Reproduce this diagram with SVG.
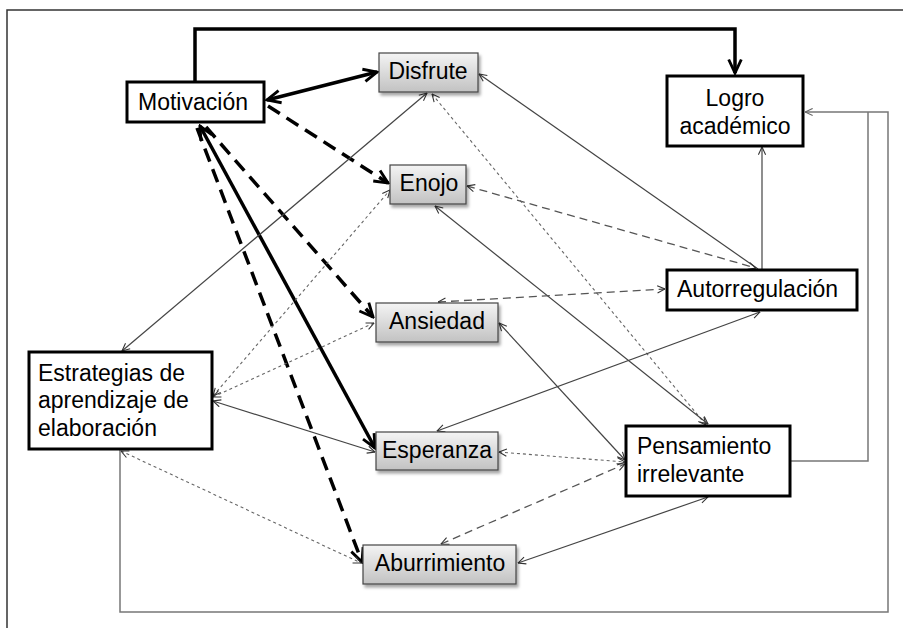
<svg xmlns="http://www.w3.org/2000/svg" width="903" height="628" viewBox="0 0 903 628">
  <defs>
    <linearGradient id="grayFill" x1="0" y1="0" x2="0" y2="1">
      <stop offset="0" stop-color="#f4f4f4"/>
      <stop offset="1" stop-color="#c2c2c2"/>
    </linearGradient>
    <filter id="shadow" x="-10%" y="-20%" width="130%" height="160%">
      <feDropShadow dx="2" dy="3" stdDeviation="1.5" flood-color="#000" flood-opacity="0.35"/>
    </filter>
    <marker id="arrThin" markerUnits="userSpaceOnUse" viewBox="0 0 10 10" refX="9.5" refY="5" markerWidth="9" markerHeight="9" orient="auto-start-reverse">
      <path d="M1,1 L9.5,5 L1,9" fill="none" stroke="#333" stroke-width="1.2"/>
    </marker>
    <marker id="arrGray" markerUnits="userSpaceOnUse" viewBox="0 0 10 10" refX="9.5" refY="5" markerWidth="9" markerHeight="9" orient="auto-start-reverse">
      <path d="M1,1 L9.5,5 L1,9" fill="none" stroke="#666" stroke-width="1.2"/>
    </marker>
    <marker id="arrThick" markerUnits="userSpaceOnUse" viewBox="0 0 20 20" refX="18" refY="10" markerWidth="18" markerHeight="18" orient="auto-start-reverse">
      <path d="M3,3 L18,10 L3,17" fill="none" stroke="#000" stroke-width="3.2" stroke-linejoin="miter"/>
    </marker>
  </defs>
  <style>
    text { font-family: "Liberation Sans", Arial, sans-serif; font-size: 23px; fill: #000; }
    .mid { text-anchor: middle; }
    .boxW { fill: #fff; stroke: #000; stroke-width: 3; }
    .boxG { fill: url(#grayFill); stroke: #444; stroke-width: 1.2; filter: url(#shadow); }
    .thick { fill: none; stroke: #000; stroke-width: 3.5; }
    .thickDash { fill: none; stroke: #000; stroke-width: 3.5; stroke-dasharray: 14 8; }
    .solid { fill: none; stroke: #444; stroke-width: 1.2; }
    .dash { fill: none; stroke: #555; stroke-width: 1.3; stroke-dasharray: 8 5; }
    .dot { fill: none; stroke: #666; stroke-width: 1.1; stroke-dasharray: 3 3; }
    .route { fill: none; stroke: #777; stroke-width: 1.5; }
  </style>

  <rect width="903" height="628" fill="#fff"/>
  <!-- frame -->
  <path d="M7,628 V10 H903" fill="none" stroke="#333" stroke-width="1.5"/>

  <g id="connectors">
    <!-- thick links from Motivación -->
    <path class="thick" d="M195,82 V29 H735 V73" marker-end="url(#arrThick)"/>
    <path class="thick" d="M267,100 L377,72" marker-start="url(#arrThick)" marker-end="url(#arrThick)"/>
    <path class="thickDash" d="M268,106 L388,183" marker-end="url(#arrThick)"/>
    <path class="thickDash" d="M206,127 L373,317" marker-end="url(#arrThick)"/>
    <path class="thick" d="M200,126 L375,448" marker-start="url(#arrThick)" marker-end="url(#arrThick)"/>
    <path class="thickDash" d="M197,128 L362,562" marker-end="url(#arrThick)"/>

    <!-- thin links -->
    <path class="solid" d="M427,93 L122,351" marker-start="url(#arrThin)" marker-end="url(#arrThin)"/>
    <path class="solid" d="M758,269 L479,74" marker-end="url(#arrThin)"/>
    <path class="dash" d="M467,186 L756,268" marker-start="url(#arrThin)" marker-end="url(#arrThin)"/>
    <path class="dot" d="M432,94 L706,425" marker-start="url(#arrThin)" marker-end="url(#arrThin)"/>
    <path class="solid" d="M435,206 L708,424" marker-start="url(#arrThin)" marker-end="url(#arrThin)"/>
    <path class="dash" d="M438,302 L665,289" marker-start="url(#arrThin)" marker-end="url(#arrThin)"/>
    <path class="solid" d="M499,323 L625,460" marker-start="url(#arrThin)" marker-end="url(#arrThin)"/>
    <path class="solid" d="M760,312 L437,431" marker-start="url(#arrThin)" marker-end="url(#arrThin)"/>
    <path class="solid" d="M213,401 L375,452" marker-start="url(#arrThin)" marker-end="url(#arrThin)"/>
    <path class="dot" d="M213,396 L390,190" marker-start="url(#arrThin)" marker-end="url(#arrThin)"/>
    <path class="dot" d="M213,397 L374,323" marker-start="url(#arrThin)" marker-end="url(#arrThin)"/>
    <path class="dot" d="M121,451 L361,563" marker-start="url(#arrThin)" marker-end="url(#arrThin)"/>
    <path class="dot" d="M499,452 L625,462" marker-start="url(#arrThin)" marker-end="url(#arrThin)"/>
    <path class="dash" d="M441,544 L625,464" marker-start="url(#arrThin)" marker-end="url(#arrThin)"/>
    <path class="solid" d="M518,563 L708,497" marker-start="url(#arrThin)" marker-end="url(#arrThin)"/>
    <path class="solid" d="M762,270 V147" marker-end="url(#arrThin)"/>

    <!-- routed links into Logro académico -->
    <path class="route" d="M120,450 V612 H888 V112 H805" marker-end="url(#arrGray)"/>
    <path class="route" d="M790,461 H868 V112"/>
  </g>

  <g id="motivacion">
    <rect class="boxW" x="127" y="82" width="137" height="40"/>
    <text class="mid" x="193" y="110">Motivación</text>
  </g>
  <g id="logro">
    <rect class="boxW" x="667" y="76" width="136" height="70"/>
    <text class="mid" x="735" y="106">Logro</text>
    <text class="mid" x="735" y="134">académico</text>
  </g>
  <g id="autorregulacion">
    <rect class="boxW" x="667" y="270" width="190" height="40"/>
    <text x="677" y="297">Autorregulación</text>
  </g>
  <g id="pensamiento">
    <rect class="boxW" x="626" y="426" width="164" height="70"/>
    <text x="637" y="454">Pensamiento</text>
    <text x="637" y="482">irrelevante</text>
  </g>
  <g id="estrategias">
    <rect class="boxW" x="29" y="352" width="183" height="97"/>
    <text x="38" y="381">Estrategias de</text>
    <text x="38" y="408">aprendizaje de</text>
    <text x="38" y="436">elaboración</text>
  </g>
  <g id="disfrute">
    <rect class="boxG" x="379" y="53" width="99" height="39"/>
    <text class="mid" x="428" y="79">Disfrute</text>
  </g>
  <g id="enojo">
    <rect class="boxG" x="390" y="165" width="76" height="39"/>
    <text class="mid" x="429" y="191">Enojo</text>
  </g>
  <g id="ansiedad">
    <rect class="boxG" x="376" y="303" width="122" height="39"/>
    <text class="mid" x="437" y="329">Ansiedad</text>
  </g>
  <g id="esperanza">
    <rect class="boxG" x="376" y="432" width="122" height="38"/>
    <text class="mid" x="437" y="458">Esperanza</text>
  </g>
  <g id="aburrimiento">
    <rect class="boxG" x="363" y="545" width="153" height="39"/>
    <text class="mid" x="440" y="571">Aburrimiento</text>
  </g>
</svg>
